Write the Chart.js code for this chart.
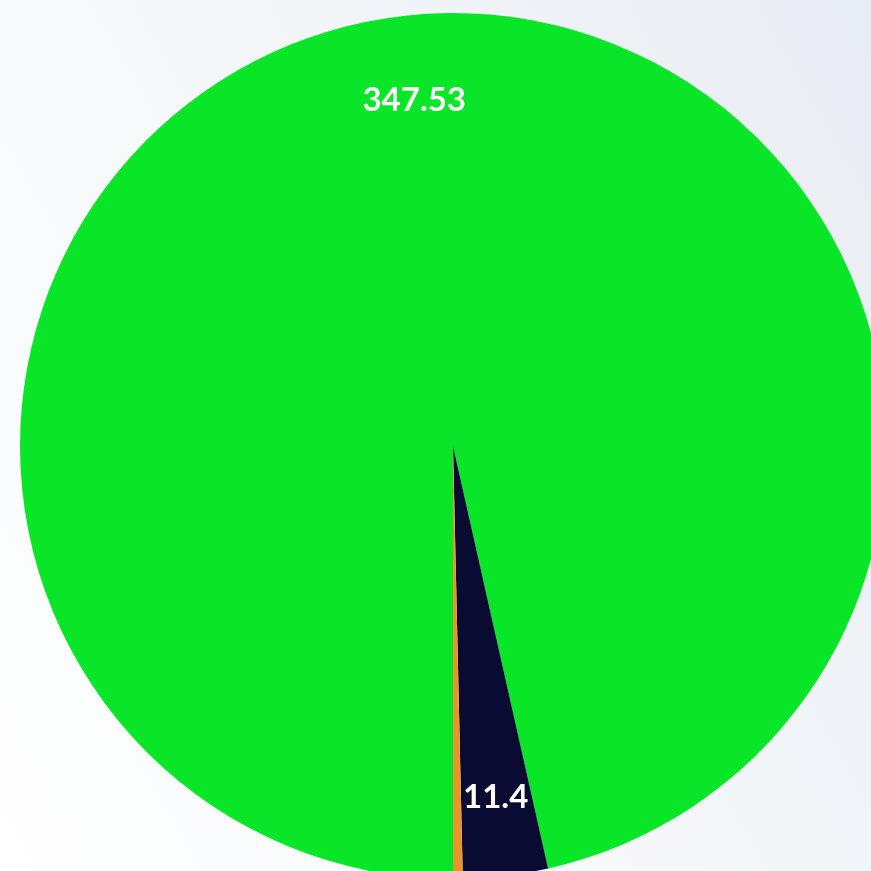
<!DOCTYPE html>
<html>
<head>
<meta charset="utf-8">
<script src="https://cdn.jsdelivr.net/npm/chart.js@4.4.1/dist/chart.umd.min.js"></script>
<style>
    html, body {
        margin: 0;
        padding: 0;
        width: 871px;
        height: 871px;
        overflow: hidden;
        background: linear-gradient(60deg, #ffffff 0%, #f6f8fa 45%, #e8edf3 100%);
    }
    #wrap {
        position: absolute;
        left: 20px;
        top: 13px;
        width: 866px;
        height: 866px;
    }
</style>
</head>
<body>
<div id="wrap"><canvas id="pieChart"></canvas></div>
<script>
    const labels = ['A', 'B', 'C'];
    const values = [347.53, 11.4, 1.3];
    const shownLabels = ['347.53', '11.4', ''];
    const colors = ['#08e627', '#0a0b33', '#e8952c'];

    // draws the value text inside each slice
    const sliceLabels = {
        id: 'sliceLabels',
        afterDatasetsDraw(chart) {
            const ctx = chart.ctx;
            const meta = chart.getDatasetMeta(0);
            ctx.save();
            ctx.font = 'bold 33px Lato';
            ctx.fillStyle = '#ffffff';
            ctx.textAlign = 'center';
            ctx.textBaseline = 'middle';
            meta.data.forEach((arc, i) => {
                if (!shownLabels[i]) return;
                const mid = (arc.startAngle + arc.endAngle) / 2;
                const r = arc.outerRadius * 0.81;
                ctx.fillText(shownLabels[i], arc.x + Math.cos(mid) * r, arc.y + Math.sin(mid) * r + 3);
            });
            ctx.restore();
        }
    };

    document.addEventListener('DOMContentLoaded', function() {
        new Chart(document.getElementById('pieChart').getContext('2d'), {
            type: 'pie',
            data: {
                labels: labels,
                datasets: [{
                    data: values,
                    backgroundColor: colors,
                    borderWidth: 0,
                }],
            },
            options: {
                responsive: true,
                maintainAspectRatio: false,
                animation: false,
                rotation: 180,
                layout: { padding: 0 },
                plugins: {
                    legend: { display: false },
                    tooltip: { enabled: false },
                },
            },
            plugins: [sliceLabels],
        });
    });
</script>
</body>
</html>
